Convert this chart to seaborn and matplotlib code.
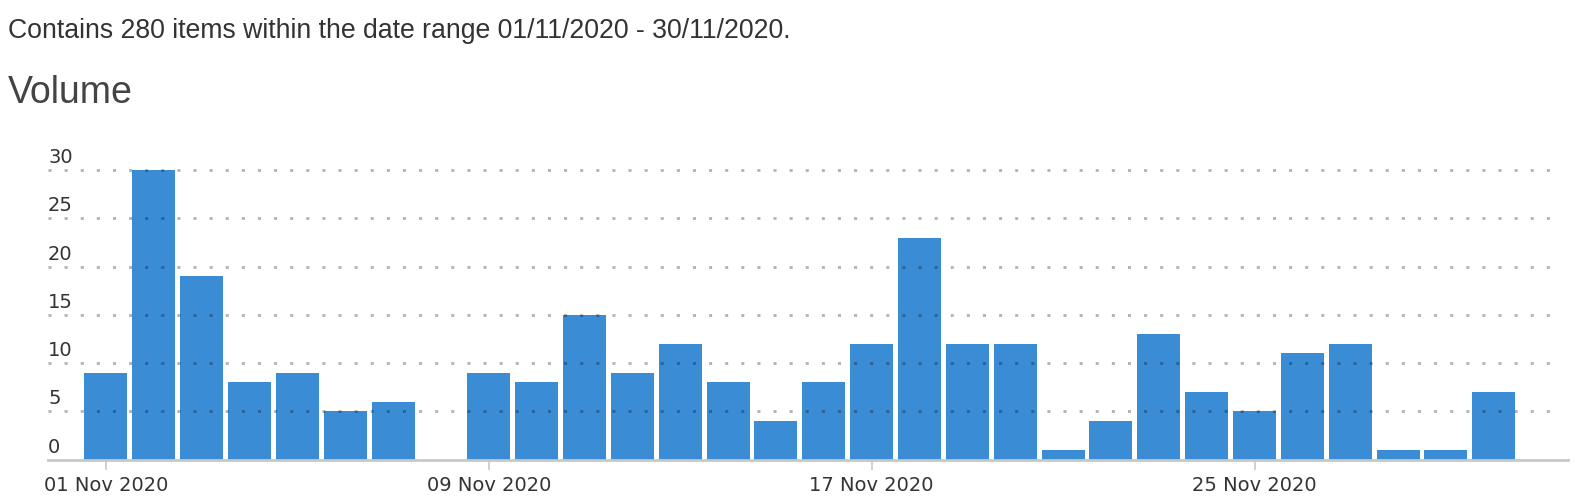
import matplotlib
matplotlib.use("Agg")
import matplotlib.pyplot as plt
import matplotlib.transforms as mtransforms
import seaborn as sns
import pandas as pd

# daily item counts, 01/11/2020 - 30/11/2020
days = [f"{d:02d} Nov 2020" for d in range(1, 31)]
volume = [9, 30, 19, 8, 9, 5, 6, 0, 9, 8,
          15, 9, 12, 8, 4, 8, 12, 23, 12, 12,
          1, 4, 13, 7, 5, 11, 12, 1, 1, 7]
y_ticks = [0, 5, 10, 15, 20, 25, 30]
x_tick_days = ["01 Nov 2020", "09 Nov 2020", "17 Nov 2020", "25 Nov 2020"]

bar_color = "#3a8cd5"
text_color = "#333333"

df = pd.DataFrame({"day": days, "volume": volume})

sns.set_style("white")
plt.rcParams["font.family"] = ["DejaVu Sans"]

W, H = 1575, 502
fig = plt.figure(figsize=(W / 100, H / 100), dpi=100)
ax = fig.add_axes([48 / W, (H - 460.7) / H, (1568 - 48) / W, (460.7 - 171) / H])

sns.barplot(data=df, x="day", y="volume", order=days, color=bar_color,
            width=0.9, saturation=1, edgecolor="none", ax=ax)

ax.set_xlim(-1.21, 30.55)
ax.set_ylim(0, 30)

# dotted grid over the bars, slightly shorter than the axis line
for v in y_ticks[1:]:
    ax.axhline(v, xmin=0, xmax=0.991, color=(0, 0, 0, 0.3), lw=2,
               linestyle=(0, (1.1, 4.7)), zorder=5, clip_on=False)

# y labels sit above their grid line, left aligned
off = mtransforms.offset_copy(ax.get_yaxis_transform(), fig=fig, x=0, y=4, units="dots")
for v in y_ticks:
    ax.text(0, v, str(v), transform=off, ha="left", va="bottom",
            fontsize=14, color=text_color)
ax.set_yticks([])

ax.set_xticks([days.index(d) for d in x_tick_days])
ax.set_xticklabels(x_tick_days, fontsize=14, color=text_color)
ax.tick_params(axis="x", length=7, width=1.2, color="#c8c8c8", pad=4, bottom=True)
ax.set_xlabel("")
ax.set_ylabel("")

for s in ["top", "right", "left"]:
    ax.spines[s].set_visible(False)
ax.spines["bottom"].set_color("#c8c8c8")
ax.spines["bottom"].set_linewidth(2)
ax.spines["bottom"].set_zorder(6)

fig.text(8 / W, 1 - 38 / H, "Contains 280 items within the date range 01/11/2020 - 30/11/2020.",
         family="Liberation Sans", fontsize=19.2, color=text_color, ha="left", va="baseline")
fig.text(8 / W, 1 - 103 / H, "Volume", family="Liberation Sans", fontsize=27,
         color="#444444", ha="left", va="baseline")

fig.savefig("out.png", dpi=100)
